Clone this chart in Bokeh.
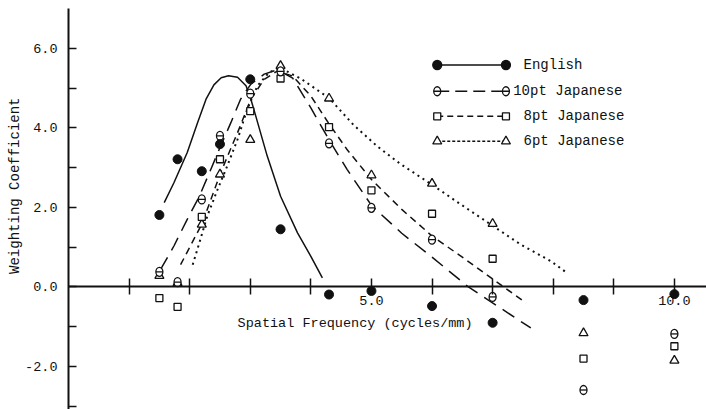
from bokeh.plotting import figure
from bokeh.models import Range1d, LinearAxis, FixedTicker, Label, Title
from bokeh.embed import file_html
from bokeh.resources import INLINE

# ---------------- data ----------------
FREQ = [1.5, 1.8, 2.2, 2.5, 3.0, 3.5, 4.3, 5.0, 6.0, 7.0, 8.5, 10.0]
ENGLISH = [1.81, 3.21, 2.91, 3.59, 5.22, 1.45, -0.19, -0.10, -0.48, -0.90, -0.33, -0.18]
JP10 = [0.38, 0.12, 2.20, 3.80, 4.86, 5.42, 3.61, 1.99, 1.19, -0.25, -2.59, -1.18]
JP8 = [-0.28, -0.50, 1.76, 3.21, 4.42, 5.24, 4.02, 2.43, 1.84, 0.71, -1.80, -1.49]
JP6 = [0.28, 0.10, 1.57, 2.83, 3.70, 5.56, 4.74, 2.81, 2.60, 1.59, -1.16, -1.85]

# fitted curves
ENG_CURVE_X = [1.58, 1.74, 1.96, 2.13, 2.27, 2.40, 2.52, 2.64, 2.79, 2.93, 3.01, 3.09, 3.28, 3.50, 3.78, 4.00, 4.19]
ENG_CURVE_Y = [2.12, 2.62, 3.38, 4.13, 4.72, 5.08, 5.26, 5.31, 5.27, 5.06, 4.72, 4.30, 3.29, 2.28, 1.36, 0.77, 0.23]

JP10_CURVE_X = [1.52, 1.74, 1.96, 2.16, 2.35, 2.51, 2.68, 2.84, 3.01, 3.23, 3.45, 3.70, 4.00, 4.30, 4.60, 5.00, 5.50, 6.00, 6.60, 7.10, 7.63]
JP10_CURVE_Y = [0.44, 1.03, 1.70, 2.28, 2.96, 3.54, 4.13, 4.72, 5.10, 5.35, 5.46, 5.25, 4.50, 3.70, 2.95, 2.05, 1.35, 0.75, 0.00, -0.50, -1.03]

JP8_CURVE_X = [1.85, 2.21, 2.51, 2.79, 3.01, 3.23, 3.45, 3.70, 4.00, 4.30, 4.60, 5.00, 5.50, 6.00, 6.50, 7.00, 7.55]
JP8_CURVE_Y = [0.56, 1.61, 2.87, 3.88, 4.72, 5.22, 5.43, 5.30, 4.80, 4.10, 3.45, 2.70, 1.95, 1.28, 0.75, 0.20, -0.40]

JP6_CURVE_X = [2.05, 2.16, 2.29, 2.46, 2.62, 2.79, 2.95, 3.12, 3.31, 3.48, 3.83, 4.30, 4.70, 5.10, 5.48, 5.98, 6.47, 6.97, 7.46, 7.96, 8.23]
JP6_CURVE_Y = [0.56, 1.11, 1.78, 2.45, 3.04, 3.71, 4.47, 5.06, 5.39, 5.52, 5.24, 4.75, 4.08, 3.53, 3.09, 2.59, 2.08, 1.57, 1.07, 0.65, 0.35]

SERIES_NAMES = ["English", "10pt Japanese", "8pt Japanese", "6pt Japanese"]

X_TICKS = [1, 2, 3, 4, 5, 6, 7, 8, 9, 10]
X_TICK_LABELS = {5: "5.0", 10: "10.0"}
Y_TICKS = [-3, -2, -1, 0, 1, 2, 3, 4, 5, 6]
Y_TICK_LABELS = {6: "6.0", 4: "4.0", 2: "2.0", 0: "0.0", -2: "-2.0"}

X_LABEL = "Spatial Frequency (cycles/mm)"
Y_LABEL = "Weighting Coefficient"

# ---------------- styling ----------------
FONT = "Liberation Mono"
INK = "#111111"

p = figure(width=706, height=409,
           x_range=Range1d(0, 10.53), y_range=Range1d(-3.08, 7.0),
           x_axis_type=None, y_axis_type=None,
           output_backend="svg", toolbar_location=None,
           min_border_left=68, min_border_right=0, min_border_top=8, min_border_bottom=0)
p.outline_line_color = None
p.background_fill_color = "white"
p.border_fill_color = "white"

xoverrides = {t: X_TICK_LABELS.get(t, "") for t in X_TICKS}
xaxis = LinearAxis(ticker=FixedTicker(ticks=X_TICKS), fixed_location=0,
                   major_label_overrides=xoverrides,
                   major_tick_in=8, major_tick_out=8, minor_tick_in=0, minor_tick_out=0,
                   major_label_standoff=1,
                   axis_line_width=2, axis_line_color=INK,
                   major_tick_line_width=1.5, major_tick_line_color=INK,
                   major_label_text_font=FONT, major_label_text_font_size="13.5px",
                   major_label_text_color=INK)
p.add_layout(xaxis, "below")

yoverrides = {t: Y_TICK_LABELS.get(t, "") for t in Y_TICKS}
yaxis = LinearAxis(ticker=FixedTicker(ticks=Y_TICKS),
                   major_label_overrides=yoverrides,
                   major_tick_in=8, major_tick_out=0, minor_tick_in=0, minor_tick_out=0,
                   major_label_standoff=11,
                   axis_line_width=2, axis_line_color=INK,
                   major_tick_line_width=1.5, major_tick_line_color=INK,
                   major_label_text_font=FONT, major_label_text_font_size="13.5px",
                   major_label_text_color=INK)
p.add_layout(yaxis, "left")

# y title as a left-side title, anchored from the top of the frame
p.add_layout(Title(text=Y_LABEL, align="right", offset=89, standoff=0,
                   vertical_align="bottom",
                   text_font=FONT, text_font_size="14px", text_font_style="normal",
                   text_color=INK), "left")

# curves
p.line(ENG_CURVE_X, ENG_CURVE_Y, line_color=INK, line_width=1.5)
p.line(JP10_CURVE_X, JP10_CURVE_Y, line_color=INK, line_width=1.5, line_dash="14 8")
p.line(JP8_CURVE_X, JP8_CURVE_Y, line_color=INK, line_width=1.5, line_dash="7 5")
p.line(JP6_CURVE_X, JP6_CURVE_Y, line_color=INK, line_width=2, line_dash="2 4")


def theta(xs, ys):
    p.ellipse(xs, ys, width=7, height=9, width_units="screen", height_units="screen",
              fill_color="white", line_color=INK, line_width=1.3)
    p.scatter(xs, ys, marker="dash", size=7, line_color=INK, line_width=1.3)


# points
p.scatter(FREQ, JP6, marker="triangle", size=9, fill_color="white", line_color=INK, line_width=1.3)
p.scatter(FREQ, JP8, marker="square", size=7, fill_color="white", line_color=INK, line_width=1.3)
theta(FREQ, JP10)
p.scatter(FREQ, ENGLISH, marker="circle", size=9, fill_color=INK, line_color=INK)

# legend (drawn by hand to show a marker at both ends of each sample line)
LEG_X0, LEG_X1 = 6.086, 7.22
LEG_ROWS = [5.58, 4.92, 4.29, 3.66]
LEG_TEXT_X = [7.51, 7.34, 7.51, 7.51]
leg_styles = [
    dict(marker="circle", size=9, fill=INK, dash="solid"),
    dict(marker="theta", size=8, fill="white", dash="12 6"),
    dict(marker="square", size=7, fill="white", dash="6 4"),
    dict(marker="triangle", size=9, fill="white", dash="3 2"),
]
for name, ry, tx, st in zip(SERIES_NAMES, LEG_ROWS, LEG_TEXT_X, leg_styles):
    p.line([LEG_X0, LEG_X1], [ry, ry], line_color=INK, line_width=1.5, line_dash=st["dash"])
    if st["marker"] == "theta":
        theta([LEG_X0, LEG_X1], [ry, ry])
    else:
        p.scatter([LEG_X0, LEG_X1], [ry, ry], marker=st["marker"], size=st["size"],
                  fill_color=st["fill"], line_color=INK, line_width=1.3)
    p.add_layout(Label(x=tx, y=ry, text=name, text_font=FONT, text_font_size="14px",
                       text_color=INK, text_baseline="middle", text_align="left"))

# x axis title
p.add_layout(Label(x=4.73, y=-0.91, text=X_LABEL, text_font=FONT, text_font_size="13.5px",
                   text_color=INK, text_baseline="middle", text_align="center"))

open("out.html", "w").write(file_html(p, INLINE))
